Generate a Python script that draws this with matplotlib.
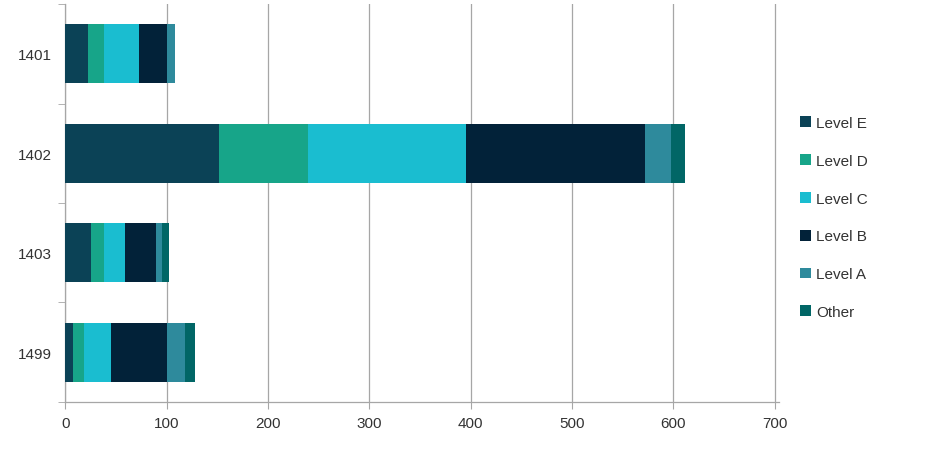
import numpy as np
import matplotlib
matplotlib.use('Agg')
import matplotlib.pyplot as plt
from matplotlib.patches import Patch

plt.rcParams['font.family'] = ['Liberation Sans', 'DejaVu Sans']

# Data
categories = ["1401", "1402", "1403", "1499"]
levels = ["Level E", "Level D", "Level C", "Level B", "Level A", "Other"]
level_e = [22, 152, 25, 8]
level_d = [16, 88, 13, 11]
level_c = [35, 155, 21, 26]
level_b = [27, 177, 31, 55]
level_a = [8, 26, 6, 18]
other = [0, 14, 6, 10]

COLORS = ["#0b4256", "#17a589", "#1abdd0", "#022239", "#2e8a9c", "#016666"]
TEXT = "#333333"
GRID = "#a6a6a6"

series = [level_e, level_d, level_c, level_b, level_a, other]

fig = plt.figure(figsize=(9.45, 4.6), dpi=100)
ax = fig.add_axes([0.069, 0.124, 0.755, 0.865])

y = np.arange(len(categories))
left = np.zeros(len(categories))
for vals, col in zip(series, COLORS):
    ax.barh(y, vals, left=left, height=0.59, color=col, edgecolor='none', zorder=3)
    left += np.array(vals)

ax.set_ylim(3.5, -0.5)
ax.set_xlim(0, 704)
ax.set_xticks(np.arange(0, 701, 100))
ax.set_yticks(y)
ax.set_yticklabels(categories)
ax.set_yticks(np.arange(-0.5, 3.6, 1), minor=True)
ax.tick_params(axis='y', which='major', length=0, pad=9.5, labelsize=11, labelcolor=TEXT)
ax.tick_params(axis='y', which='minor', length=5, color=GRID, direction='out')
ax.tick_params(axis='x', length=5, color=GRID, labelsize=11, labelcolor=TEXT, pad=5)
ax.grid(axis='x', color=GRID, lw=0.9, zorder=0)

for s in ['top', 'right']:
    ax.spines[s].set_visible(False)
for s in ['left', 'bottom']:
    ax.spines[s].set_color(GRID)
    ax.spines[s].set_linewidth(0.9)

handles = [Patch(facecolor=c, edgecolor='none') for c in COLORS]
leg = fig.legend(handles, levels, loc='upper left', bbox_to_anchor=(0.840, 0.759),
                 frameon=False, fontsize=11, handlelength=0.72, handleheight=0.72,
                 handletextpad=0.35, labelspacing=1.56, borderaxespad=0)
for t in leg.get_texts():
    t.set_color(TEXT)

fig.savefig('out.png', dpi=100)
plt.close(fig)
